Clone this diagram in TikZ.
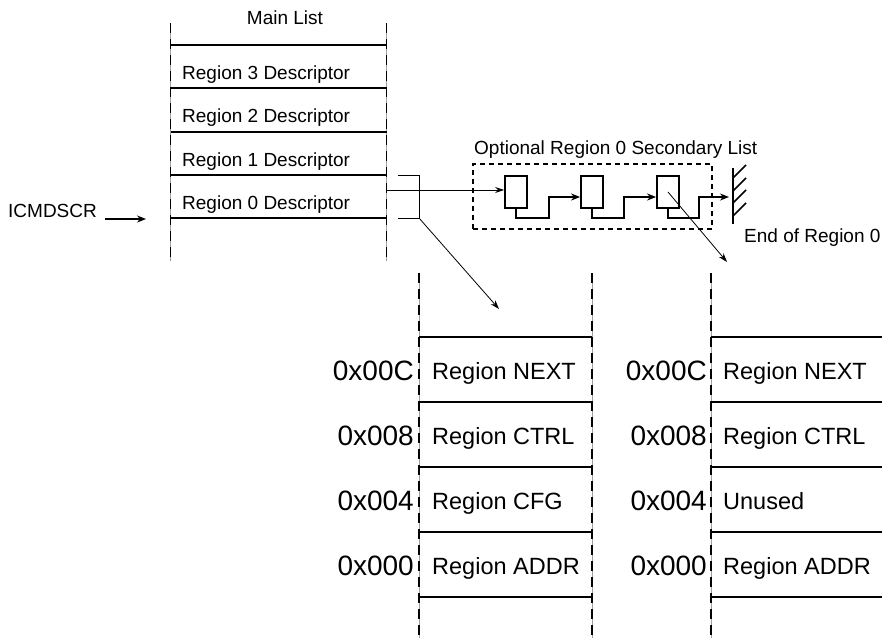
\documentclass[tikz,border=0pt]{standalone}
\usepackage{fontspec}
\setmainfont{Liberation Sans}
\usetikzlibrary{arrows.meta}
\begin{document}
\begin{tikzpicture}[x=1pt,y=-1pt,
  dashcol/.style={draw=gray!75, line width=0.6pt,
    postaction={draw=black, line width=1.8pt, dash pattern=on 10pt off 6pt}},
  rowline/.style={draw=black, line width=1.6pt},
  mtext/.style={font=\fontsize{19}{22}\selectfont, inner sep=0pt, anchor=base west},
  rtext/.style={font=\fontsize{23.5}{27}\selectfont, inner sep=0pt, anchor=base west},
  addr/.style={font=\fontsize{28}{32}\selectfont, inner sep=0pt, anchor=base east},
  sbox/.style={draw=black, line width=1.8pt, minimum width=22pt, minimum height=32pt, inner sep=0pt},
  thinarrow/.style={draw=black, line width=0.8pt, -{Stealth[length=9pt,width=6pt]}},
  thickarrow/.style={draw=black, line width=1.6pt, -{Stealth[length=9pt,width=7pt]}},
  thinline/.style={draw=black, line width=0.8pt}]
\useasboundingbox (0,0) rectangle (882,638);

% ---------- Main list ----------
\draw[dashcol] (170.5,23) -- (170.5,261);
\draw[dashcol] (386.5,23) -- (386.5,261);
\foreach \yy in {45,88,132,175,218} \draw[rowline] (170.5,\yy) -- (386.5,\yy);
\node[mtext, anchor=base] (mainlist) at (285,24) {Main List};
\node[mtext] (r3) at (182,79) {Region 3 Descriptor};
\node[mtext] (r2) at (182,122) {Region 2 Descriptor};
\node[mtext] (r1) at (182,166) {Region 1 Descriptor};
\node[mtext] (r0) at (182,209) {Region 0 Descriptor};

% ICMDSCR pointer
\node[mtext] (icm) at (8,217) {ICMDSCR};
\coordinate (icmEnd) at (146,219);
\draw[thickarrow, line width=1.2pt] (105,219) -- (icmEnd);

% ---------- Secondary list ----------
\node[draw=black, line width=1.4pt, dash pattern=on 5pt off 4pt, minimum width=239pt, minimum height=65pt, inner sep=0pt] (dbox) at (592.5,196.5) {};
\node[mtext] (optl) at (474,154) {Optional Region 0 Secondary List};
\node[sbox] (b1) at (516,192) {};
\node[sbox] (b2) at (592,192) {};
\node[sbox] (b3) at (668,192) {};

\coordinate (mlR) at (386.5,190);
\draw[thinarrow] (mlR) -- (b1.west |- 0,190);
\draw[thickarrow] (b1.south) -- (516,218) -- (549,218) -- (549,197) -- (b2.west |- 0,197);
\draw[thickarrow] (b2.south) -- (592,218) -- (624,218) -- (624,197) -- (b3.west |- 0,197);
\coordinate (wall) at (733,197);
\draw[thickarrow] (b3.south) -- (668,218) -- (699,218) -- (699,197) -- ([xshift=-4pt]wall);

% wall
\draw[line width=1.6pt] (733,168) -- (733,224);
\foreach \yy in {178,191,203,216} \draw[line width=1.6pt] (733,\yy) -- (746,\yy-13);
\node[mtext] (endr) at (744,242) {End of Region 0};

% bracket and pointer to first descriptor
\coordinate (brk) at (419,218);
\draw[thinline] (398,175) -- (419,175) -- (brk) -- (398,218);
\coordinate (memL) at (499,309);
\draw[thinarrow] (brk) -- (memL);
\coordinate (memR) at (727,262);
\draw[thinarrow] (b3.center) -- (memR);

% ---------- Left memory ----------
\draw[dashcol] (419,273) -- (419,638);
\draw[dashcol] (592,273) -- (592,638);
\foreach \yy in {337,402,467,532,597} \draw[rowline] (419,\yy) -- (592,\yy);
\node[addr] (la3) at (414,380) {0x00C};
\node[addr] (la2) at (414,445) {0x008};
\node[addr] (la1) at (414,510) {0x004};
\node[addr] (la0) at (414,575) {0x000};
\node[rtext] (lt3) at (432,379) {Region NEXT};
\node[rtext] (lt2) at (432,444) {Region CTRL};
\node[rtext] (lt1) at (432,509) {Region CFG};
\node[rtext] (lt0) at (432,574) {Region ADDR};

% ---------- Right memory ----------
\draw[dashcol] (711,273) -- (711,638);
\foreach \yy in {337,402,467,532,597} \draw[rowline] (711,\yy) -- (882,\yy);
\node[addr] (ra3) at (707,380) {0x00C};
\node[addr] (ra2) at (707,445) {0x008};
\node[addr] (ra1) at (707,510) {0x004};
\node[addr] (ra0) at (707,575) {0x000};
\node[rtext] (rt3) at (723,379) {Region NEXT};
\node[rtext] (rt2) at (723,444) {Region CTRL};
\node[rtext] (rt1) at (723,509) {Unused};
\node[rtext] (rt0) at (723,574) {Region ADDR};
\end{tikzpicture}
\end{document}
